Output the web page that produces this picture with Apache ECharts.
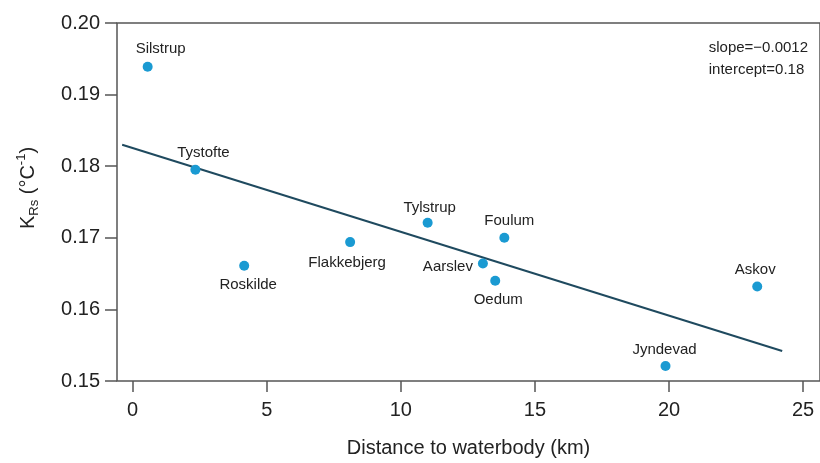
<!DOCTYPE html>
<html>
<head>
<meta charset="utf-8">
<script src="https://cdn.jsdelivr.net/npm/echarts@6/dist/echarts.min.js"></script>
<style>
html,body{margin:0;padding:0;background:#fff;}
#chart{width:820px;height:463px;}
</style>
</head>
<body>
<div id="chart"></div>
<script>
// ---- data ----
const stations = ['Silstrup','Tystofte','Roskilde','Flakkebjerg','Tylstrup','Foulum','Aarslev','Oedum','Askov','Jyndevad'];
const distanceKm = [0.56, 2.34, 4.16, 8.11, 11.00, 13.86, 13.06, 13.52, 23.29, 19.87];
const kRs = [0.1939, 0.1795, 0.1661, 0.1694, 0.1721, 0.1700, 0.1664, 0.1640, 0.1632, 0.1521];
const fitX = [-0.39, 24.22];
const fitY = [0.1830, 0.1542];
const xTicks = [0, 5, 10, 15, 20, 25];
const yTicks = [0.15, 0.16, 0.17, 0.18, 0.19, 0.20];
const fitText = ['slope=\u22120.0012', 'intercept=0.18'];

// ---- label layout (style only) ----
const labelPos = ['top','top','bottom','bottom','top','top','left','bottom','top','top'];
const labelOff = [[13,0],[8,1],[4,2],[-3,3],[2,3],[5,1],[0,3],[3,2],[-2,1],[-1,1]];

const textColor = '#222';
const axisColor = '#555';
const fontFam = '"Liberation Sans", Arial, Helvetica, sans-serif';

const pts = stations.map((s, i) => ({
  value: [distanceKm[i], kRs[i]],
  name: s,
  label: { position: labelPos[i], offset: labelOff[i] }
}));

const chart = echarts.init(document.getElementById('chart'), null, {renderer: 'canvas'});
chart.setOption({
  animation: false,
  backgroundColor: '#fff',
  textStyle: { fontFamily: fontFam },
  grid: {
    left: 117, right: -3, top: 23, bottom: 79,
    show: true, borderColor: axisColor, borderWidth: 1.5
  },
  xAxis: {
    type: 'value',
    min: -0.583, max: 25.63,
    axisLine: { show: false },
    splitLine: { show: false },
    axisTick: { show: true, length: 11, customValues: xTicks, lineStyle: { color: axisColor, width: 1.5 } },
    axisLabel: { customValues: xTicks, margin: 19, fontSize: 20, color: textColor, fontFamily: fontFam },
    name: 'Distance to waterbody (km)',
    nameLocation: 'middle',
    nameGap: 57,
    nameTextStyle: { fontSize: 20, color: textColor, fontFamily: fontFam }
  },
  yAxis: {
    type: 'value',
    min: yTicks[0], max: yTicks[yTicks.length - 1], interval: 0.01,
    axisLine: { show: false, onZero: false },
    splitLine: { show: false },
    axisTick: { show: true, length: 12, lineStyle: { color: axisColor, width: 1.5 } },
    axisLabel: { margin: 17, fontSize: 20, color: textColor, fontFamily: fontFam,
      formatter: v => v.toFixed(2) },
    name: '{n|K}{sub|Rs}{n| (°C}{sup|-1}{n|)}',
    nameLocation: 'middle',
    nameGap: 76,
    nameRotate: 90,
    nameTextStyle: {
      color: textColor, fontFamily: fontFam, padding: [0, 0, 0, 28],
      rich: {
        n: { fontSize: 20, lineHeight: 26, color: textColor, fontFamily: fontFam },
        sub: { fontSize: 13, lineHeight: 13, verticalAlign: 'bottom', color: textColor, fontFamily: fontFam },
        sup: { fontSize: 13, lineHeight: 13, verticalAlign: 'top', color: textColor, fontFamily: fontFam }
      }
    }
  },
  graphic: [{
    type: 'text',
    right: 12, top: 37,
    style: {
      text: fitText.join('\n'),
      fontSize: 15, lineHeight: 22, fontFamily: fontFam,
      fill: textColor, align: 'right'
    }
  }],
  series: [
    {
      type: 'line',
      data: fitX.map((x, i) => [x, fitY[i]]),
      symbol: 'none',
      lineStyle: { color: '#1f4a5f', width: 2 },
      z: 2
    },
    {
      type: 'scatter',
      data: pts,
      symbolSize: 10,
      itemStyle: { color: '#1a9ad2', opacity: 1 },
      label: {
        show: true,
        formatter: '{b}',
        fontSize: 15,
        color: textColor,
        fontFamily: fontFam,
        distance: 5
      },
      z: 3
    }
  ]
});
</script>
</body>
</html>
